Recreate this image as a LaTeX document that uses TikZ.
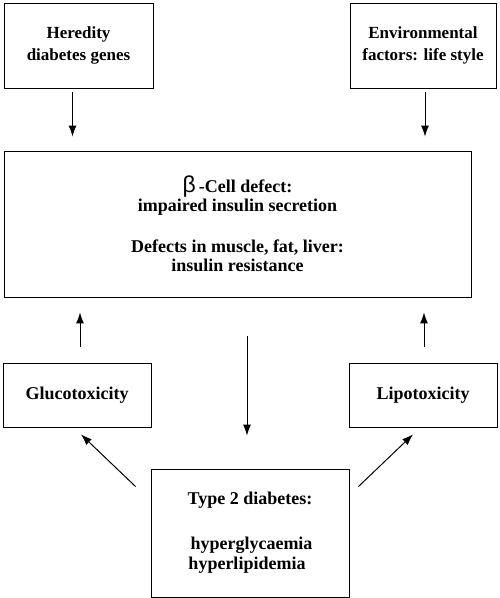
\documentclass[tikz,border=0pt]{standalone}
\usepackage{fontspec}
\setmainfont{Liberation Serif}
\setsansfont{Liberation Sans}
\usetikzlibrary{calc}

\tikzset{
  box/.style={draw, line width=0.8pt, inner sep=0pt, align=center,
    font=\bfseries\fontsize{18}{21}\selectfont},
  arr/.style={-{Latex[length=11pt,width=8pt]}, line width=1pt}
}
\usetikzlibrary{arrows.meta}

\begin{document}
\begin{tikzpicture}[x=1pt,y=1pt]
  \useasboundingbox (0,0) rectangle (500,598);
  % top row
  \node[box, minimum width=149, minimum height=85,
    font=\bfseries\fontsize{17}{22}\selectfont] (hered) at (78.5,552.5) {Heredity\\diabetes genes};
  \node[box, minimum width=146, minimum height=85,
    font=\bfseries\fontsize{17}{22}\selectfont] (env) at (423,552.5) {Environmental\\factors: life style};
  % middle
  \node[box, minimum width=467, minimum height=146,
    font=\bfseries\fontsize{18}{19}\selectfont] (defect) at (237.5,374)
    {{\sffamily\mdseries\fontsize{23}{19}\selectfont β}\,-Cell defect:\\impaired insulin secretion\\[22pt]
     Defects in muscle, fat, liver:\\insulin resistance};
  % toxicity boxes
  \node[box, minimum width=148, minimum height=64] (gluco) at (77,203) {Glucotoxicity};
  \node[box, minimum width=148, minimum height=64] (lipo) at (423,203) {Lipotoxicity};
  % bottom
  \node[box, minimum width=198, minimum height=128,
    font=\bfseries\fontsize{18}{20}\selectfont] (type2) at (250,65)
    {Type 2 diabetes:\\[25pt]\,hyperglycaemia\\hyperlipidemia\,\,};

  \draw[arr, shorten <=4pt, shorten >=14pt] ([xshift=-6]hered.south) -- ([xshift=-6]hered.south |- defect.north);
  \draw[arr, shorten <=4pt, shorten >=14pt] ([xshift=2]env.south) -- ([xshift=2]env.south |- defect.north);
  \draw[arr, shorten <=16pt, shorten >=15pt] ([xshift=3]gluco.north) -- ([xshift=3]gluco.north |- defect.south);
  \draw[arr, shorten <=16pt, shorten >=15pt] ([xshift=1]lipo.north) -- ([xshift=1]lipo.north |- defect.south);
  \draw[arr, shorten <=39pt, shorten >=33pt] ([xshift=-3]type2.north |- defect.south) -- ([xshift=-3]type2.north);
  \draw[arr] ([shift={(-15,-18)}]type2.north west) -- ([shift={(4,-7)}]gluco.south);
  \draw[arr] ([shift={(9,-18)}]type2.north east) -- ([shift={(-10,-7)}]lipo.south);
\end{tikzpicture}
\end{document}
